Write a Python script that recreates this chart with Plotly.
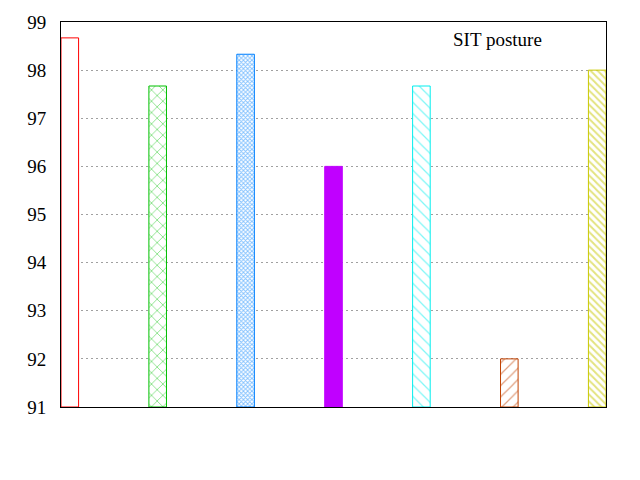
import plotly.graph_objects as go

positions = [0, 1, 2, 3, 4, 5, 6]
values = [98.67, 97.67, 98.33, 96.0, 97.67, 92.0, 98.0]
colors = ["#ff0000", "#00c000", "#0080ff", "#c000ff", "#00eeee", "#c04000", "#c8c800"]
shapes = ["", "x", "x", "", "\\", "/", "\\"]
sizes = [8, 8, 3, 8, 8, 8, 5]
solid = [0.0, 0.2, 0.5, 1.0, 0.15, 0.15, 0.4]
y_ticks = [91, 92, 93, 94, 95, 96, 97, 98, 99]
legend_title = "SIT posture"

fig = go.Figure()
for i, (x, v) in enumerate(zip(positions, values)):
    if i == 0:
        marker = dict(color="white", line=dict(color=colors[i], width=1))
    elif i == 3:
        marker = dict(color=colors[i], line=dict(color=colors[i], width=1))
    else:
        marker = dict(color="white", line=dict(color=colors[i], width=1),
                      pattern=dict(shape=shapes[i], fgcolor=colors[i], bgcolor="white",
                                   size=sizes[i], solidity=solid[i], fillmode="overlay"))
    fig.add_trace(go.Bar(x=[x], y=[v - 91], base=91, width=0.2, marker=marker, showlegend=False))

fig.add_annotation(text=legend_title, xref="paper", yref="paper", x=0.8, y=0.955,
                   xanchor="center", yanchor="middle",
                   showarrow=False, font=dict(family="Liberation Serif", size=19, color="black"))

fig.update_layout(
    width=640, height=480,
    margin=dict(l=61, r=34, t=22, b=73, autoexpand=False),
    paper_bgcolor="white", plot_bgcolor="white",
    font=dict(family="Liberation Serif", size=19, color="black"),
    barmode="overlay",
)
fig.update_xaxes(range=[-0.1, 6.1], showticklabels=False, showgrid=False, zeroline=False,
                 showline=True, linecolor="black", linewidth=1, mirror=True, ticks="")
fig.update_yaxes(range=[91, 99], tickvals=y_ticks, showgrid=True, gridcolor="#a0a0a0",
                 griddash="2px,3px", gridwidth=1, zeroline=False,
                 showline=True, linecolor="black", linewidth=1, mirror=True, ticks="",
                 ticklabelstandoff=10,
                 tickfont=dict(family="Liberation Serif", size=19, color="black"))

fig.write_html("out.html", config={"displayModeBar": False},
               post_script="document.body.style.margin='0';")
